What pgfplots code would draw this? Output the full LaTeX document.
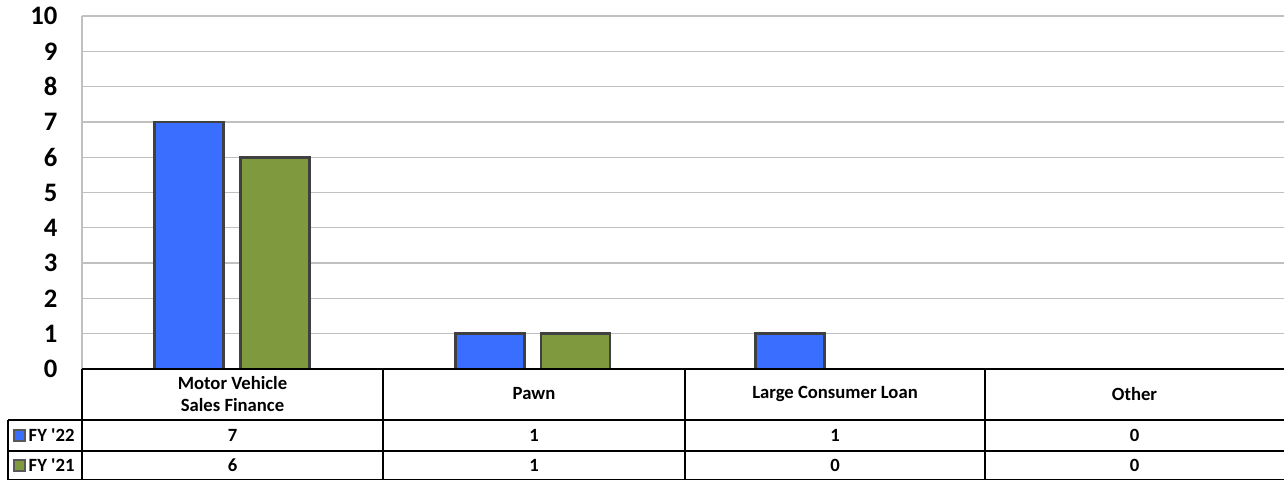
\documentclass[border=0pt]{standalone}
\usepackage{fontspec}
\setmainfont{Carlito}[Ligatures=TeXOff]
\usepackage{pgfplots}
\pgfplotsset{compat=1.18}
\definecolor{bblue}{HTML}{3A6EFF}
\definecolor{bgreen}{HTML}{7F9A3E}
\definecolor{bedge}{HTML}{404040}
\definecolor{gridc}{HTML}{C0C0C0}
\begin{document}
\begin{tikzpicture}
\path[use as bounding box] (0,0) rectangle (963pt,360pt);
\begin{axis}[
 at={(61.5pt,83.25pt)}, anchor=south west,
 scale only axis, width=901.5pt, height=264.75pt,
 xmin=-0.5, xmax=3.5, ymin=0, ymax=10,
 ytick={0,...,10}, xtick=\empty,
 ymajorgrids, grid style={gridc, line width=1pt},
 axis lines*=left, y axis line style={gridc, line width=1pt}, x axis line style={draw=none},
 major tick length=0pt,
 yticklabel style={font=\fontsize{20}{22}\selectfont\bfseries, xshift=-15pt},
 /pgf/number format/assume math mode=true,
 clip=false,
]
\addplot[ybar, bar width=51.75pt, bar shift=-32.25pt, fill=bblue, draw=bedge, line width=2pt] coordinates {(0,7) (1,1) (2,1)};
\addplot[ybar, bar width=51.75pt, bar shift=32pt, fill=bgreen, draw=bedge, line width=2pt] coordinates {(0,6) (1,1)};
\end{axis}
\begin{scope}[x=0.75pt, y=-0.75pt, shift={(0pt,360pt)}, line width=1.1pt]
\draw (82,369) -- (1284,369);
\draw (8,420) -- (1284,420);
\draw (8,451) -- (1284,451);
\draw (8,479.5) -- (1284,479.5);
\draw (8,420) -- (8,480);
\foreach \xx in {82,383,685,985} {\draw (\xx,369) -- (\xx,480);}
\begin{scope}[font=\fontsize{14}{16.5}\selectfont\bfseries]
\node[align=center] at (232.5,394) {Motor Vehicle\\Sales Finance};
\node at (534,394) {Pawn};
\node at (835,394) {Large Consumer Loan};
\node at (1134.5,394) {Other};
\node at (232.5,435.5) {7};
\node at (534,435.5) {1};
\node at (835,435.5) {1};
\node at (1134.5,435.5) {0};
\node at (232.5,465.5) {6};
\node at (534,465.5) {1};
\node at (835,465.5) {0};
\node at (1134.5,465.5) {0};
\filldraw[fill=bblue, draw=gray!70!black, line width=1.5pt] (13.5,430) rectangle (25,441);
\filldraw[fill=bgreen, draw=gray!70!black, line width=1.5pt] (13.5,460) rectangle (25,471);
\node[anchor=west, inner sep=0pt] at (28,435.5) {FY '22};
\node[anchor=west, inner sep=0pt] at (28,465.5) {FY '21};
\end{scope}
\end{scope}
\end{tikzpicture}
\end{document}
